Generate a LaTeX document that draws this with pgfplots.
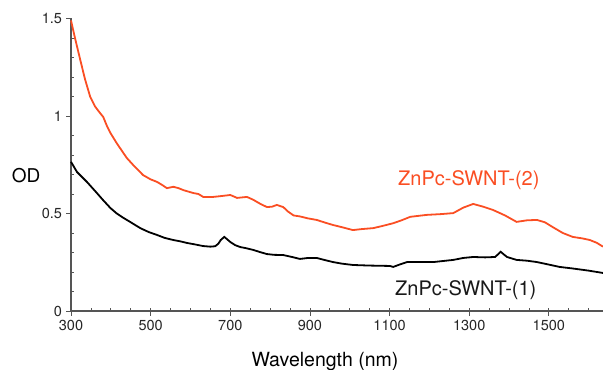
\documentclass[border=0pt]{standalone}
\usepackage{pgfplots}
\pgfplotsset{compat=1.18}
\usepackage{fontspec}
\setmainfont{TeX Gyre Heros}
\definecolor{redline}{RGB}{250,78,35}
\definecolor{axisgray}{RGB}{85,85,85}
\begin{document}
\begin{tikzpicture}
\useasboundingbox (-71bp,-59bp) rectangle (532bp,311bp);
\begin{axis}[
  at={(0,0)}, anchor=south west,
  scale only axis,
  width=532bp, height=292.5bp,
  xmin=300, xmax=1636, ymin=0, ymax=1.5,
  axis x line*=bottom, axis y line*=left,
  axis line style={axisgray, line width=1.1bp},
  xtick={300,500,...,1500},
  minor xtick={350,400,...,1600},
  ytick={0,0.5,1,1.5},
  minor ytick={0.1,0.2,0.3,0.4,0.6,0.7,0.8,0.9,1.1,1.2,1.3,1.4},
  tick align=outside,
  major tick length=4.5bp,
  minor tick length=3bp,
  tick style={axisgray, line width=0.8bp},
  minor x tick style={yshift=3bp},
  minor y tick style={xshift=3bp},
  /pgf/number format/assume math mode=true,
  /pgf/number format/1000 sep={},
  tick label style={font=\fontsize{14.5bp}{16bp}\selectfont, text=black!85},
  xticklabel style={yshift=-1bp},
  yticklabel style={xshift=-1bp},
  every axis x label/.style={at={(axis description cs:0.4774,0)}, yshift=-55bp, anchor=base},
  every axis y label/.style={at={(axis description cs:-0.0508,0.4615)}, anchor=east},
  xlabel={\fontsize{19.5bp}{22bp}\selectfont Wavelength (nm)},
  ylabel={\fontsize{19bp}{22bp}\selectfont OD},
  clip=false,
]
\addplot[redline, line width=1.8bp] coordinates {
(300,1.49)(310,1.40)(323,1.29)(335,1.19)(348,1.10)(360,1.05)(373,1.015)(381,0.995)
(390,0.95)(399,0.913)(415,0.86)(425,0.83)(440,0.785)(456,0.749)(470,0.72)(481,0.697)
(500,0.675)(516,0.662)(530,0.645)(541,0.63)(557,0.637)(570,0.63)(582,0.62)(607,0.605)
(620,0.60)(632,0.585)(657,0.585)(680,0.59)(700,0.595)(717,0.58)(742,0.585)(758,0.57)
(775,0.55)(792,0.533)(805,0.535)(817,0.544)(833,0.533)(845,0.51)(859,0.49)(875,0.485)
(895,0.475)(917,0.467)(940,0.452)(958,0.441)(980,0.43)(1008,0.415)(1030,0.42)(1059,0.425)
(1080,0.435)(1109,0.45)(1130,0.465)(1152,0.483)(1194,0.493)(1230,0.497)(1260,0.502)
(1285,0.53)(1310,0.549)(1335,0.535)(1360,0.518)(1390,0.49)(1419,0.457)(1445,0.465)
(1470,0.467)(1490,0.455)(1510,0.43)(1535,0.40)(1560,0.38)(1585,0.372)(1603,0.364)
(1620,0.35)(1636,0.33)
};
\addplot[black, line width=1.8bp] coordinates {
(300,0.765)(315,0.713)(340,0.662)(365,0.605)(380,0.57)(399,0.528)(415,0.50)(432,0.477)
(450,0.455)(474,0.425)(495,0.405)(516,0.39)(535,0.375)(557,0.364)(575,0.357)(591,0.349)
(610,0.342)(632,0.333)(650,0.330)(662,0.332)(670,0.345)(676,0.364)(685,0.38)(692,0.368)
(700,0.354)(712,0.338)(725,0.328)(740,0.322)(758,0.313)(775,0.302)(792,0.292)(810,0.288)
(833,0.287)(855,0.277)(875,0.267)(895,0.272)(917,0.272)(940,0.260)(958,0.251)(980,0.243)
(1008,0.236)(1050,0.233)(1101,0.231)(1109,0.226)(1125,0.238)(1144,0.251)(1210,0.251)
(1260,0.262)(1285,0.272)(1310,0.277)(1340,0.275)(1365,0.277)(1372,0.29)(1379,0.304)
(1387,0.29)(1395,0.277)(1419,0.262)(1445,0.258)(1470,0.251)(1500,0.238)(1527,0.226)
(1560,0.218)(1600,0.207)(1636,0.195)
};
\node[anchor=base west, inner sep=0, text=redline, font=\fontsize{20bp}{22bp}\selectfont]
  at (rel axis cs:0.6147,0.4274) {ZnPc-SWNT-(2)};
\node[anchor=base west, inner sep=0, text=black!90, font=\fontsize{20bp}{22bp}\selectfont]
  at (rel axis cs:0.609,0.0513) {ZnPc-SWNT-(1)};
\end{axis}
\end{tikzpicture}
\end{document}
